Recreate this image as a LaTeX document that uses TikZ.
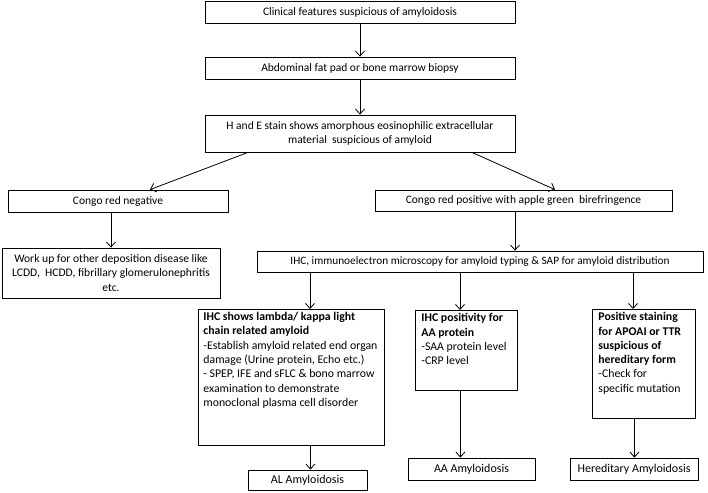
\documentclass[tikz,border=0pt]{standalone}
\usepackage{fontspec}
\setmainfont{Carlito}
\usetikzlibrary{calc,arrows.meta}
\begin{document}
\begin{tikzpicture}[x=1pt,y=-1pt]
    \tikzstyle{box}=[draw, line width=0.8pt, inner sep=0pt, align=center, font=\fontsize{11.5}{13.5}\selectfont]
    \tikzstyle{lowbox}=[box, font=\fontsize{12}{14}\selectfont]
    \tikzstyle{txtbox}=[draw, line width=0.8pt, anchor=north west, inner xsep=6pt, inner ysep=3pt, font=\fontsize{11.8}{14.3}\selectfont]
    \tikzstyle{arr}=[line width=0.8pt, -{Straight Barb[length=5pt,width=9pt]}]

    \useasboundingbox (0,0) rectangle (708,492);

    \node[box, minimum width=310, minimum height=22] (clin) at (360,12) {Clinical features suspicious of amyloidosis};
    \node[box, minimum width=310, minimum height=22] (biop) at (360,68) {Abdominal fat pad or bone marrow biopsy};
    \node[box, minimum width=310, minimum height=37] (stain) at (360,133.5) {H and E stain shows amorphous eosinophilic extracellular\\material \ suspicious of amyloid};
    \node[box, minimum width=220, minimum height=22] (neg) at (118,201) {Congo red negative};
    \node[box, minimum width=297, minimum height=21] (pos) at (523.5,200.5) {Congo red positive with apple green \ birefringence};
    \node[lowbox, font=\fontsize{11.6}{14.5}\selectfont, minimum width=218, minimum height=50] (work) at (111,273) {Work up for other deposition disease like\\LCDD, \ HCDD, fibrillary glomerulonephritis\\etc.};
    \node[lowbox, font=\fontsize{11.3}{13}\selectfont, minimum width=446, minimum height=21] (ihc) at (480,261.5) {IHC, immunoelectron microscopy for amyloid typing \& SAP for amyloid distribution};

    \node[txtbox, inner xsep=5pt] (al) at (198,309) {\parbox[t][130pt][t]{176pt}{\raggedright
        \textbf{IHC shows lambda/ kappa light\\chain related amyloid}\\
        -Establish amyloid related end organ\\damage (Urine protein, Echo etc.)\\
        - SPEP, IFE and sFLC \& bono marrow\\examination to demonstrate\\monoclonal plasma cell disorder}};
    \node[txtbox] (aa) at (415,310) {\parbox[t][74pt][t]{90pt}{\raggedright
        \textbf{IHC positivity for\\AA protein}\\
        -SAA protein level\\-CRP level}};
    \node[txtbox] (her) at (592,309) {\parbox[t][103pt][t]{91pt}{\raggedright
        \textbf{Positive staining\\for APOAI or TTR\\suspicious of\\hereditary form}\\
        -Check for\\specific mutation}};

    \node[lowbox, minimum width=119, minimum height=20] (alres) at (307.5,480) {AL Amyloidosis};
    \node[lowbox, minimum width=127, minimum height=22] (aares) at (471.5,469) {AA Amyloidosis};
    \node[lowbox, minimum width=128, minimum height=22] (herres) at (634,469) {Hereditary Amyloidosis};

    \draw[arr] (clin) -- (biop);
    \draw[arr] (biop) -- (stain);
    \draw[arr] ($(stain.south)+(-112,0)$) -- ($(neg.north)+(32,0)$);
    \draw[arr] ($(stain.south)+(112,0)$) -- ($(pos.north)+(31.5,0)$);
    \draw[arr] (neg.south -| work.north) -- (work);
    \draw[arr] ($(pos.south)+(-8.5,0)$) -- ($(pos.south |- ihc.north)+(-8.5,0)$);
    \draw[arr] ($(ihc.south)+(-170,0)$) -- ($(ihc.south |- al.north)+(-170,0)$);
    \draw[arr] ($(ihc.south)+(-20,0)$) -- ($(ihc.south |- aa.north)+(-20,0)$);
    \draw[arr] ($(ihc.south)+(153,0)$) -- ($(ihc.south |- her.north)+(153,0)$);
    \draw[arr] ($(al.south)+(19,0)$) -- ($(al.south |- alres.north)+(19,0)$);
    \draw[arr] ($(aa.south)+(-6,0)$) -- ($(aa.south |- aares.north)+(-6,0)$);
    \draw[arr] ($(her.south)+(-9.5,0)$) -- ($(her.south |- herres.north)+(-9.5,0)$);
\end{tikzpicture}
\end{document}
